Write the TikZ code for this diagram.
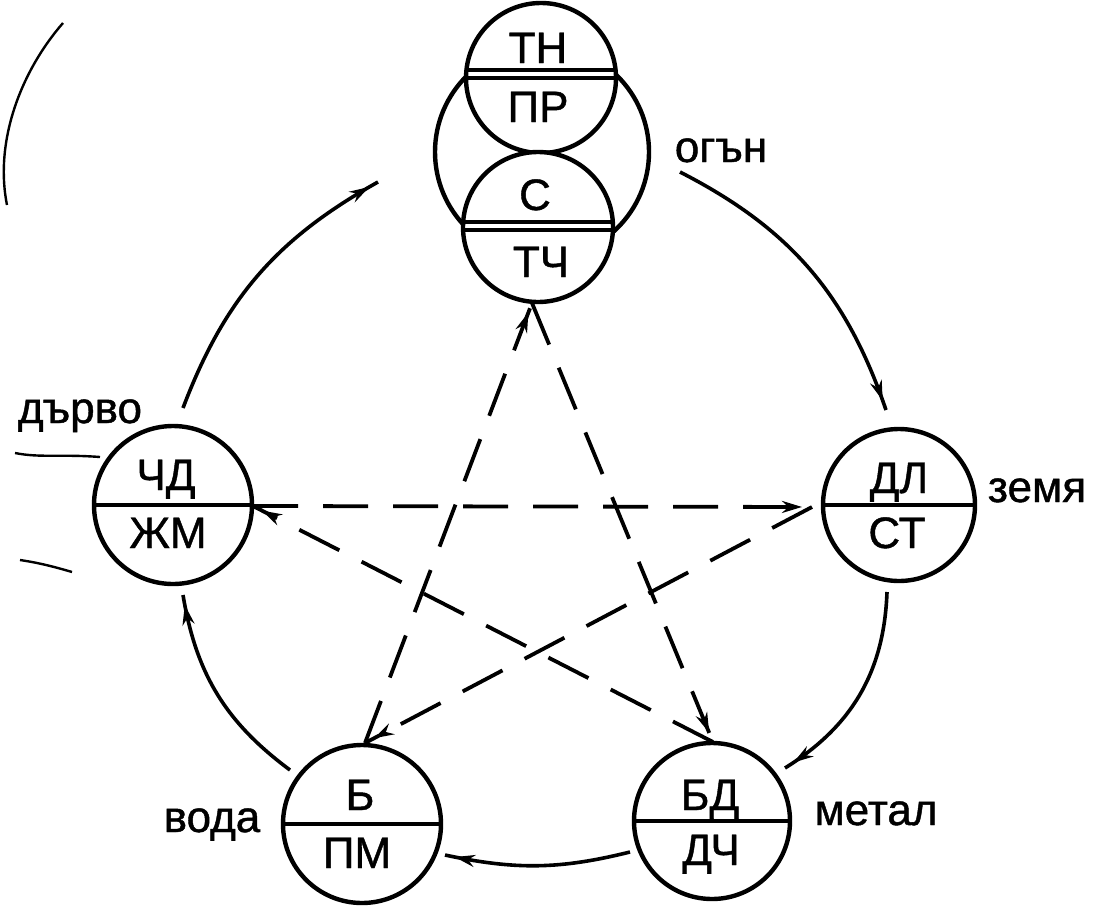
\documentclass[tikz,border=0pt]{standalone}
\usepackage{fontspec}
\setmainfont{Liberation Sans}[FakeBold=1]
\usetikzlibrary{arrows.meta,decorations.markings,calc}
\begin{document}
\begin{tikzpicture}[x=1pt,y=1pt,
  ring/.style={circle,draw,line width=4.4pt,inner sep=0pt,minimum size=#1},
  txt/.style={font=\fontsize{44}{50}\selectfont,anchor=base,inner sep=0pt},
  divider/.style={line width=4pt},
  tipmark/.style={postaction={decorate},decoration={markings,mark=at position -10pt with {\arrow{Stealth[length=20pt,width=12pt]}}}},
  gen/.style={line width=3.6pt,tipmark},
  ctl/.style={line width=3.8pt,dash pattern=on 45pt off 25pt,tipmark},
  scan/.style={line width=2.4pt}]
\useasboundingbox (0,0) rectangle (1097,-910);

% fire
\node[ring=214] (fire) at (542,-152) {};
\node[ring=150,fill=white] (fireU) at (541,-78) {};
\node[ring=150,fill=white] (fireL) at (538,-227) {};
\draw[divider] ($(fireU.center)+(-74,8)$) -- ($(fireU.center)+(74,8)$);
\draw[divider] ($(fireU.center)+(-75,0)$) -- ($(fireU.center)+(75,0)$);
\draw[divider] ($(fireL.center)+(-74,5)$) -- ($(fireL.center)+(74,5)$);
\draw[divider] ($(fireL.center)+(-74,-3)$) -- ($(fireL.center)+(74,-3)$);
\node[txt] (fireA) at (538,-63) {ТН};
\node[txt] (fireB) at (538,-122) {ПР};
\node[txt] (fireC) at (535,-210) {С};
\node[txt] (fireD) at (541,-277) {ТЧ};

% wood
\node[ring=158] (wood) at (173,-505) {};
\draw[divider] (wood.west) -- (wood.east);
\node[txt] (woodA) at (166,-490) {ЧД};
\node[txt] (woodB) at (168,-548) {ЖМ};

% earth
\node[ring=152] (earth) at (899,-505) {};
\draw[divider] (earth.west) -- (earth.east);
\node[txt] (earthA) at (899,-493) {ДЛ};
\node[txt] (earthB) at (897,-548) {СТ};

% water
\node[ring=158] (water) at (362,-824) {};
\draw[divider] (water.west) -- (water.east);
\node[txt] (waterA) at (360,-810) {Б};
\node[txt] (waterB) at (357,-868) {ПМ};

% metal
\node[ring=156] (metal) at (712,-821) {};
\draw[divider] (metal.west) -- (metal.east);
\node[txt] (metalA) at (710,-810) {БД};
\node[txt] (metalB) at (711,-865) {ДЧ};

% labels
\node[txt] (lfire) at (721,-162) {огън};
\node[txt] (lwood) at (80,-423) {дърво};
\node[txt] (learth) at (1037,-502) {земя};
\node[txt] (lwater) at (212,-832) {вода};
\node[txt] (lmetal) at (876,-825) {метал};

% generating cycle end points
\coordinate (g1s) at (183,-408); \coordinate (g1e) at (378,-182);
\coordinate (g2s) at (680,-172); \coordinate (g2e) at (886,-410);
\coordinate (g3s) at (887,-592); \coordinate (g3e) at (785,-768);
\coordinate (g4s) at (630,-852); \coordinate (g4e) at (445,-855);
\coordinate (g5s) at (290,-770); \coordinate (g5e) at (183,-595);
\draw[gen] (g1s) to[bend left=20] (g1e);
\draw[gen] (g2s) to[bend left=22] (g2e);
\draw[gen] (g3s) to[bend left=28] (g3e);
\draw[gen] (g4s) to[bend left=13] (g4e);
\draw[gen] (g5s) to[bend left=22] (g5e);

% star vertices
\coordinate (sF) at (532,-303);
\coordinate (sE) at (812,-507);
\coordinate (sM) at (713,-742);
\coordinate (sW) at (365,-743);
\coordinate (sD) at (253,-506);
\draw[ctl] (sD) -- (sE);
\draw[ctl] (sE) -- (sW);
\draw[ctl] (sW) -- (sF);
\draw[ctl] (sF) -- (sM);
\draw[ctl] (sM) -- (sD);

% scan marks
\draw[scan] (63,-23) .. controls (22,-70) and (-6,-140) .. (7,-205);
\draw[scan] (15,-453) .. controls (40,-458) and (60,-454) .. (100,-457);
\draw[scan] (20,-560) .. controls (40,-563) and (55,-567) .. (72,-572);
\end{tikzpicture}
\end{document}
